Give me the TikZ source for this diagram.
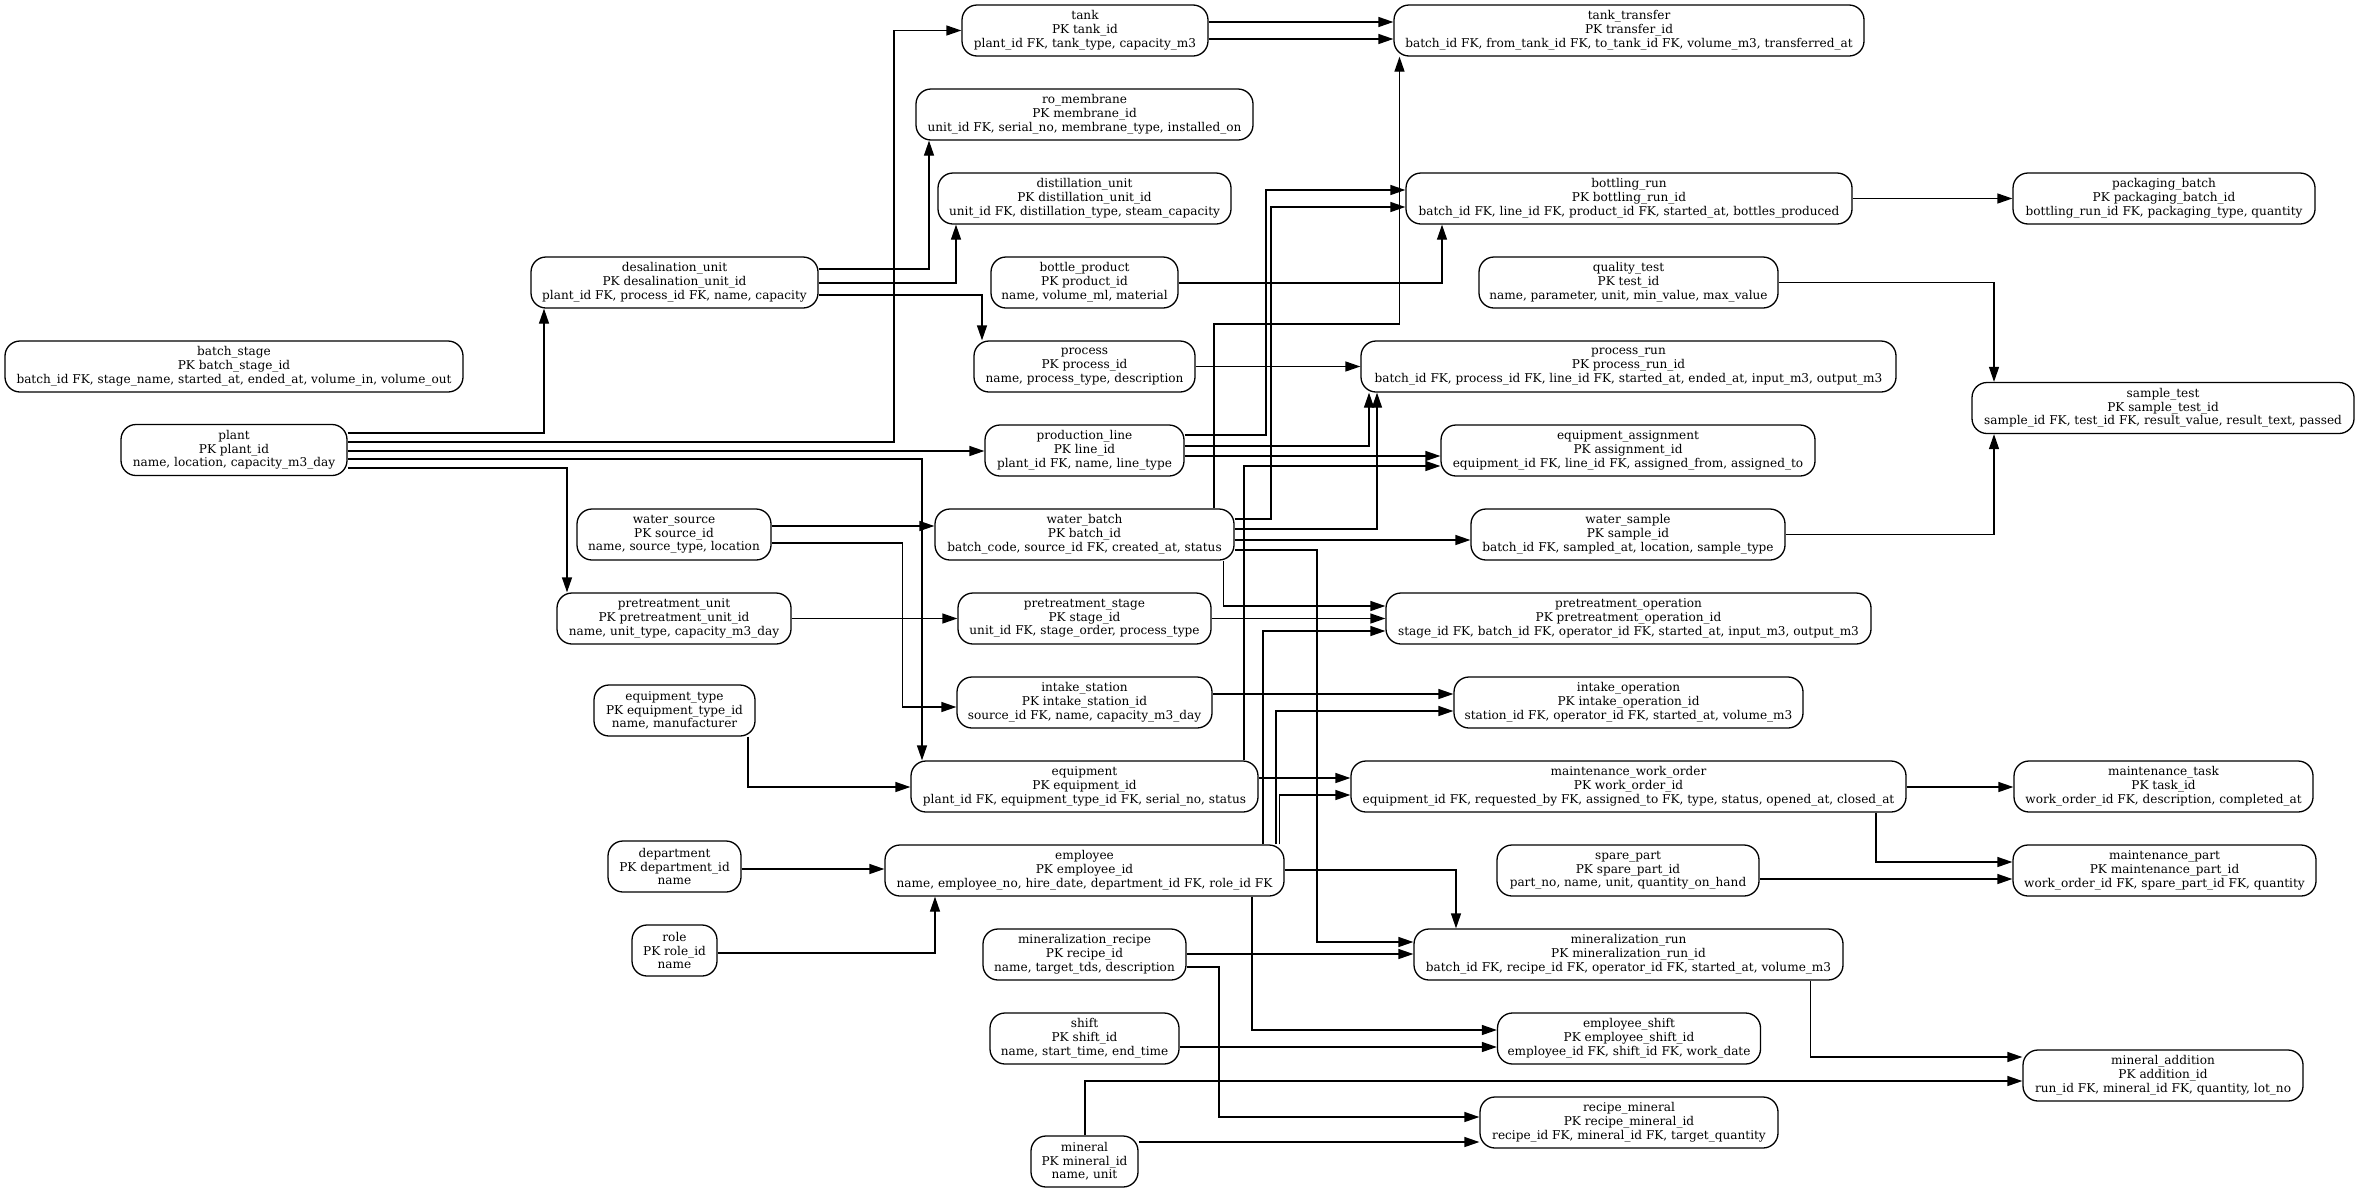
\documentclass[tikz,border=0pt]{standalone}
\usepackage{fontspec}
\setmainfont{DejaVu Serif}
\usetikzlibrary{arrows.meta}
\newcommand{\entfont}{\fontsize{12.1pt}{13.7pt}\selectfont\lineskiplimit=-20pt}
\newcommand{\mkent}[7]{\node[ent,minimum width=#4pt] (#1) at (#2,#3) {#5\\PK #6\\#7};}
\tikzset{
  ent/.style={draw, rounded corners=15pt, line width=1.3pt, minimum height=51pt,
    inner xsep=4pt, inner ysep=0pt, align=center, font=\entfont},
  fk/.style={-{Triangle[length=15pt,width=10pt]}, line width=1.3pt}
}
\begin{document}
\begin{tikzpicture}[x=1pt,y=-1pt]
\fill[white] (0,0) rectangle (2360,1192);
\useasboundingbox (0,0) rectangle (2360,1192);
% column 1
\mkent{batchstage}{234}{366.5}{458}{batch\_stage}{batch\_stage\_id}{batch\_id FK, stage\_name, started\_at, ended\_at, volume\_in, volume\_out}
\mkent{plant}{234}{450}{226}{plant}{plant\_id}{name, location, capacity\_m3\_day}
% column 2
\mkent{desal}{674.5}{282.5}{287}{desalination\_unit}{desalination\_unit\_id}{plant\_id FK, process\_id FK, name, capacity}
\mkent{watersource}{674}{534.5}{194}{water\_source}{source\_id}{name, source\_type, location}
\mkent{pretunit}{674}{618.5}{234}{pretreatment\_unit}{pretreatment\_unit\_id}{name, unit\_type, capacity\_m3\_day}
\mkent{equiptype}{674.5}{710.5}{161}{equipment\_type}{equipment\_type\_id}{name, manufacturer}
\mkent{department}{674.5}{866.5}{133}{department}{department\_id}{name}
\mkent{role}{674.5}{950.5}{85}{role}{role\_id}{name}
% column 3
\mkent{tank}{1085}{30.5}{246}{tank}{tank\_id}{plant\_id FK, tank\_type, capacity\_m3}
\mkent{romem}{1084.5}{114.5}{337}{ro\_membrane}{membrane\_id}{unit\_id FK, serial\_no, membrane\_type, installed\_on}
\mkent{distunit}{1084.5}{198.5}{293}{distillation\_unit}{distillation\_unit\_id}{unit\_id FK, distillation\_type, steam\_capacity}
\mkent{bottleproduct}{1084.5}{282.5}{187}{bottle\_product}{product\_id}{name, volume\_ml, material}
\mkent{process}{1084.5}{366.5}{221}{process}{process\_id}{name, process\_type, description}
\mkent{prodline}{1084.5}{450.5}{199}{production\_line}{line\_id}{plant\_id FK, name, line\_type}
\mkent{waterbatch}{1084.5}{534.5}{299}{water\_batch}{batch\_id}{batch\_code, source\_id FK, created\_at, status}
\mkent{pretstage}{1084.5}{618.5}{253}{pretreatment\_stage}{stage\_id}{unit\_id FK, stage\_order, process\_type}
\mkent{intakestation}{1084.5}{702.5}{255}{intake\_station}{intake\_station\_id}{source\_id FK, name, capacity\_m3\_day}
\mkent{equipment}{1084.5}{786.5}{347}{equipment}{equipment\_id}{plant\_id FK, equipment\_type\_id FK, serial\_no, status}
\mkent{employee}{1084.5}{870.5}{399}{employee}{employee\_id}{name, employee\_no, hire\_date, department\_id FK, role\_id FK}
\mkent{minrecipe}{1084.5}{954.5}{203}{mineralization\_recipe}{recipe\_id}{name, target\_tds, description}
\mkent{shift}{1084.5}{1038.5}{189}{shift}{shift\_id}{name, start\_time, end\_time}
\mkent{mineral}{1084.5}{1161.5}{107}{mineral}{mineral\_id}{name, unit}
% column 4
\mkent{tanktransfer}{1629}{30.5}{470}{tank\_transfer}{transfer\_id}{batch\_id FK, from\_tank\_id FK, to\_tank\_id FK, volume\_m3, transferred\_at}
\mkent{bottlingrun}{1629}{198.5}{446}{bottling\_run}{bottling\_run\_id}{batch\_id FK, line\_id FK, product\_id FK, started\_at, bottles\_produced}
\mkent{qualitytest}{1628.5}{282.5}{299}{quality\_test}{test\_id}{name, parameter, unit, min\_value, max\_value}
\mkent{processrun}{1628.5}{366.5}{535}{process\_run}{process\_run\_id}{batch\_id FK, process\_id FK, line\_id FK, started\_at, ended\_at, input\_m3, output\_m3}
\mkent{equipassign}{1628}{450.5}{374}{equipment\_assignment}{assignment\_id}{equipment\_id FK, line\_id FK, assigned\_from, assigned\_to}
\mkent{watersample}{1628}{534.5}{314}{water\_sample}{sample\_id}{batch\_id FK, sampled\_at, location, sample\_type}
\mkent{pretop}{1628.5}{618.5}{485}{pretreatment\_operation}{pretreatment\_operation\_id}{stage\_id FK, batch\_id FK, operator\_id FK, started\_at, input\_m3, output\_m3}
\mkent{intakeop}{1628.5}{702.5}{349}{intake\_operation}{intake\_operation\_id}{station\_id FK, operator\_id FK, started\_at, volume\_m3}
\mkent{mwo}{1628.5}{786.5}{555}{maintenance\_work\_order}{work\_order\_id}{equipment\_id FK, requested\_by FK, assigned\_to FK, type, status, opened\_at, closed\_at}
\mkent{sparepart}{1628}{870.5}{262}{spare\_part}{spare\_part\_id}{part\_no, name, unit, quantity\_on\_hand}
\mkent{minrun}{1628.5}{954.5}{429}{mineralization\_run}{mineralization\_run\_id}{batch\_id FK, recipe\_id FK, operator\_id FK, started\_at, volume\_m3}
\mkent{empshift}{1629}{1038.5}{263}{employee\_shift}{employee\_shift\_id}{employee\_id FK, shift\_id FK, work\_date}
\mkent{recipemineral}{1629}{1122.5}{298}{recipe\_mineral}{recipe\_mineral\_id}{recipe\_id FK, mineral\_id FK, target\_quantity}
% column 5
\mkent{packaging}{2164}{198.5}{302}{packaging\_batch}{packaging\_batch\_id}{bottling\_run\_id FK, packaging\_type, quantity}
\mkent{sampletest}{2163}{408}{382}{sample\_test}{sample\_test\_id}{sample\_id FK, test\_id FK, result\_value, result\_text, passed}
\mkent{mtask}{2163.5}{786.5}{299}{maintenance\_task}{task\_id}{work\_order\_id FK, description, completed\_at}
\mkent{mpart}{2164.5}{870.5}{303}{maintenance\_part}{maintenance\_part\_id}{work\_order\_id FK, spare\_part\_id FK, quantity}
\mkent{mineraladd}{2163}{1075.5}{280}{mineral\_addition}{addition\_id}{run\_id FK, mineral\_id FK, quantity, lot\_no}
% edges
\draw[fk] (plant.east |- 0,433) -| (desal.south -| 544,0);
\draw[fk] (plant.east |- 0,442) -| (tank.west -| 894,0) -- (tank.west);
\draw[fk] (plant.east |- 0,451) -- (prodline.west |- 0,451);
\draw[fk] (plant.east |- 0,459) -| (equipment.north -| 922,0);
\draw[fk] (plant.east |- 0,468) -| (pretunit.north -| 567,0);
\draw[fk] (desal.east |- 0,269) -| (romem.south -| 929,0);
\draw[fk] (desal.east |- 0,283) -| (distunit.south -| 956,0);
\draw[fk] (desal.east |- 0,295) -| (process.north -| 982,0);
\draw[fk] (tank.east |- 0,22) -- (tanktransfer.west |- 0,22);
\draw[fk] (tank.east |- 0,39) -- (tanktransfer.west |- 0,39);
\draw[fk] (waterbatch.north -| 1214,0) |- (1399.5,324) -- (tanktransfer.south -| 1399.5,0);
\draw[fk] (bottleproduct.east |- 0,283) -| (bottlingrun.south -| 1442,0);
\draw[fk] (prodline.east |- 0,435) -| (1266,190) -- (bottlingrun.west |- 0,190);
\draw[fk] (waterbatch.east |- 0,519) -| (1271,207) -- (bottlingrun.west |- 0,207);
\draw[fk] (bottlingrun.east) -- (packaging.west);
\draw[fk] (qualitytest.east) -| (sampletest.north -| 1994,0);
\draw[fk] (watersample.east) -| (sampletest.south -| 1994,0);
\draw[fk] (process.east) -- (processrun.west);
\draw[fk] (prodline.east |- 0,446) -| (processrun.south -| 1369,0);
\draw[fk] (waterbatch.east |- 0,529) -| (processrun.south -| 1377,0);
\draw[fk] (prodline.east |- 0,456) -- (equipassign.west |- 0,456);
\draw[fk] (equipment.north -| 1244,0) |- (equipassign.west |- 0,466);
\draw[fk] (waterbatch.east |- 0,540) -- (watersample.west |- 0,540);
\draw[fk] (waterbatch.east |- 0,550) -| (1317,942) -- (minrun.west |- 0,942);
\draw[fk] (waterbatch.south -| 1223.5,0) |- (pretop.west |- 0,606);
\draw[fk] (pretstage.east) -- (pretop.west);
\draw[fk] (employee.north -| 1263,0) |- (pretop.west |- 0,631);
\draw[fk] (pretunit.east) -- (pretstage.west);
\draw[fk] (watersource.east |- 0,526) -- (waterbatch.west |- 0,526);
\draw[fk] (watersource.east |- 0,543) -| (902.5,707) -- (intakestation.west |- 0,707);
\draw[fk] (intakestation.east |- 0,694) -- (intakeop.west |- 0,694);
\draw[fk] (employee.north -| 1276,0) |- (intakeop.west |- 0,711);
\draw[fk] (employee.north -| 1279.6,0) |- (mwo.west |- 0,795);
\draw[fk] (equipment.east |- 0,778) -- (mwo.west |- 0,778);
\draw[fk] (equiptype.south -| 748,0) |- (equipment.west |- 0,787);
\draw[fk] (department.east |- 0,869) -- (employee.west |- 0,869);
\draw[fk] (role.east |- 0,953) -| (employee.south -| 935,0);
\draw[fk] (employee.east |- 0,870) -| (minrun.north -| 1456,0);
\draw[fk] (minrecipe.east |- 0,954) -- (minrun.west |- 0,954);
\draw[fk] (employee.south -| 1252,0) |- (empshift.west |- 0,1030);
\draw[fk] (shift.east |- 0,1047) -- (empshift.west |- 0,1047);
\draw[fk] (minrecipe.east |- 0,967) -| (1219,1117) -- (recipemineral.west |- 0,1117);
\draw[fk] (mineral.east |- 0,1142) -- (recipemineral.west |- 0,1142);
\draw[fk] (mineral.north -| 1085,0) |- (mineraladd.west |- 0,1081);
\draw[fk] (minrun.south -| 1810.5,0) |- (mineraladd.west |- 0,1057);
\draw[fk] (mwo.east |- 0,787) -- (mtask.west |- 0,787);
\draw[fk] (mwo.south -| 1876,0) |- (mpart.west |- 0,862);
\draw[fk] (sparepart.east |- 0,879) -- (mpart.west |- 0,879);
\end{tikzpicture}
\end{document}
